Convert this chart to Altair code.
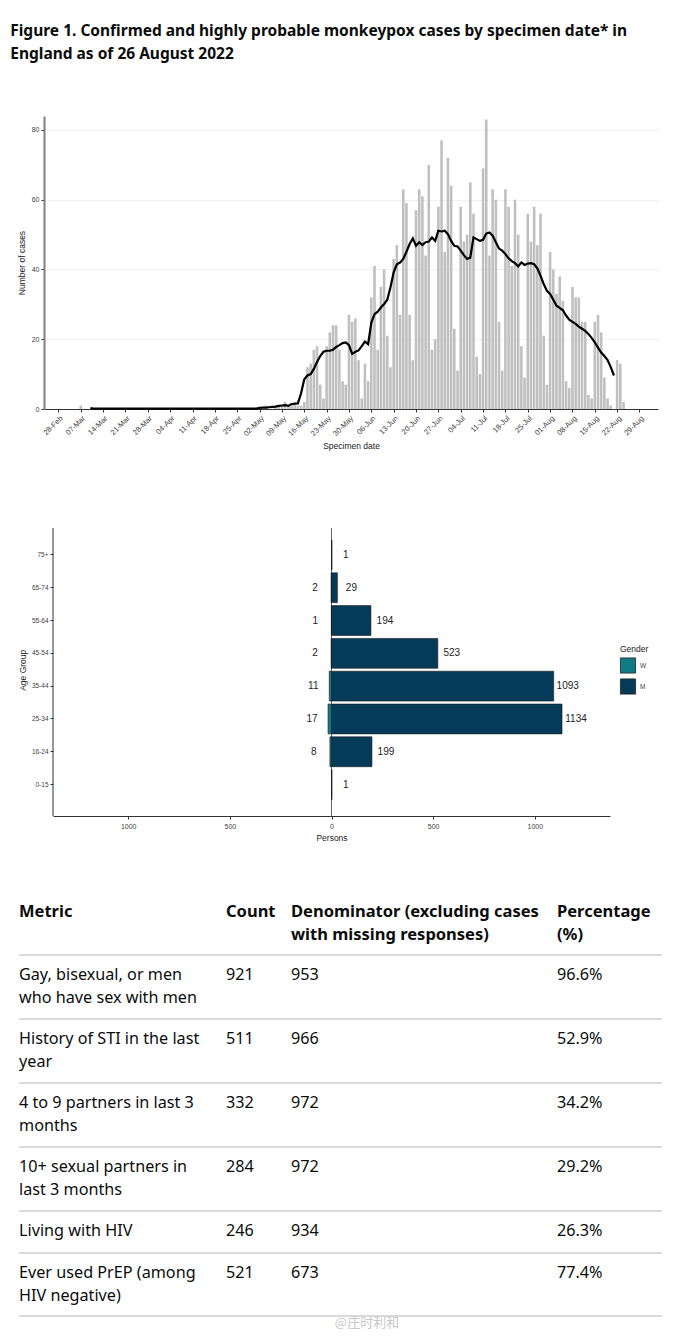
import altair as alt
import pandas as pd

# ---------------- data ----------------
title_lines = [
    "Figure 1. Confirmed and highly probable monkeypox cases by specimen date* in",
    "England as of 26 August 2022",
]

# daily cases (bars)
early_dates = ["2022-03-07"]
early_cases = [1]
daily_first_date = "2022-05-02"
daily_cases = [
    0, 0, 1, 0, 0, 1, 1, 1, 2, 1, 1, 2, 1, 1,                       # 2-15 May
    2, 12, 13, 17, 18, 7, 3, 18, 22, 24, 24, 17, 8, 7, 27, 25,      # 16-31 May
    26, 14, 3, 13, 8, 32, 41, 17, 35, 40, 21, 12, 43, 47, 27,       # 1-15 Jun
    63, 59, 27, 14, 57, 63, 61, 44, 70, 17, 20, 58, 77, 45, 72,     # 16-30 Jun
    64, 23, 11, 58, 48, 50, 65, 56, 15, 10, 69, 83, 44, 63, 60,     # 1-15 Jul
    25, 11, 63, 58, 41, 60, 50, 18, 9, 56, 48, 58, 47, 56, 21, 7,   # 16-31 Jul
    45, 40, 33, 38, 31, 8, 6, 35, 32, 32, 25, 25, 4, 3, 25, 27,     # 1-16 Aug
    22, 9, 3, 1, 0, 14, 13, 2,                                      # 17-24 Aug
]

# 7-day average (line)
avg_early_dates = ["2022-03-10", "2022-03-11", "2022-05-01"]
avg_early_values = [0.3, 0.1, 0.1]
avg_first_date = "2022-05-02"
avg_values = [
    0.3, 0.4, 0.4, 0.5, 0.6, 0.7, 0.9, 1.0, 1.1, 0.9, 1.4, 1.5, 1.6,          # 2-14 May
    4.5, 8.5, 9.6, 10.0, 11.5, 13.5, 15.2, 16.4, 16.7, 16.7, 17.0, 17.8,      # 15-26 May
    18.3, 18.9, 19.1, 18.3, 15.8,                                             # 27-31 May
    16.4, 16.8, 18.0, 19.3, 18.6, 24.8, 27.2, 27.9, 29.1, 30.1, 31.3, 34.9,   # 1-12 Jun
    39.2, 41.5, 42.0, 43.0, 45.1, 47.3, 48.9, 46.8, 47.8, 47.0, 47.8, 48.0,   # 13-24 Jun
    49.2, 48.2, 51.1, 50.9, 51.1, 50.1,                                       # 25-30 Jun
    48.2, 46.8, 46.6, 45.4, 44.1, 43.0, 43.4, 49.2, 48.7, 48.2, 48.5, 50.3,   # 1-12 Jul
    50.6, 49.7, 47.8, 46.0, 45.4, 44.4, 43.2, 42.4, 41.8, 40.9, 42.0, 41.3,   # 13-24 Jul
    41.7, 41.8, 41.5, 40.3, 38.2, 35.8, 33.9,                                 # 25-31 Jul
    33.0, 31.3, 29.6, 29.0, 28.3, 26.8, 25.6, 25.0, 24.4, 23.6, 23.0, 22.4,   # 1-12 Aug
    21.5, 20.4, 19.1, 17.6, 16.2, 15.2, 14.0, 12.0, 9.6,                      # 13-21 Aug
]

tick_first, tick_last = "2022-02-28", "2022-08-29"

# age / gender pyramid
age_groups = ["75+", "65-74", "55-64", "45-54", "35-44", "25-34", "16-24", "0-15"]
men_counts = [1, 29, 194, 523, 1093, 1134, 199, 1]
women_counts = [0, 2, 1, 2, 11, 17, 8, 0]

# table
table_headers = [["Metric"], ["Count"], ["Denominator (excluding cases", "with missing responses)"], ["Percentage", "(%)"]]
metric_lines = [
    ["Gay, bisexual, or men", "who have sex with men"],
    ["History of STI in the last", "year"],
    ["4 to 9 partners in last 3", "months"],
    ["10+ sexual partners in", "last 3 months"],
    ["Living with HIV"],
    ["Ever used PrEP (among", "HIV negative)"],
]
metric_counts = ["921", "511", "332", "284", "246", "521"]
metric_denoms = ["953", "966", "972", "972", "934", "673"]
metric_pcts = ["96.6%", "52.9%", "34.2%", "29.2%", "26.3%", "77.4%"]
watermark = "@庄时利和"

# ---------------- layout constants ----------------
AX_FONT = "Liberation Sans"
TB_FONT = "Noto Sans"
W1, H1 = 614, 293
W2, H2 = 566, 288
TABLE_TOP = 882          # page y of the table panel's top
LEFT = 44                # page x of the panels' origin
col_x = [19, 226, 291, 557]
header_y = 912
rule_ys = [955, 1019, 1083, 1147, 1211, 1253, 1316]
line_gap = 23

# ---------------- chart 1 ----------------
bar_dates = early_dates + [d.strftime("%Y-%m-%d") for d in pd.date_range(daily_first_date, periods=len(daily_cases))]
bars_df = pd.DataFrame({"date": pd.to_datetime(bar_dates), "cases": early_cases + daily_cases})
avg_dates = avg_early_dates + [d.strftime("%Y-%m-%d") for d in pd.date_range(avg_first_date, periods=len(avg_values))]
avg_df = pd.DataFrame({"date": pd.to_datetime(avg_dates), "avg": avg_early_values + avg_values})

def dt(ts, **kw):
    return alt.DateTime(year=ts.year, month=ts.month, date=ts.day, **kw)

ticks = [dt(t) for t in pd.date_range(tick_first, tick_last, freq="7D")]
x_dom = [alt.DateTime(year=2022, month=2, date=25, hours=1),
         alt.DateTime(year=2022, month=9, date=2, hours=5, minutes=30)]

x1 = alt.X("date:T", title="Specimen date", scale=alt.Scale(domain=x_dom),
           axis=alt.Axis(values=ticks, format="%d-%b", labelAngle=-45, labelFontSize=7.5,
                         labelOverlap=False, labelColor="#404040", labelFont=AX_FONT, tickSize=3,
                         tickColor="#333", domainColor="#333", domainWidth=1, grid=False,
                         titleFontSize=8.5, titleFont=AX_FONT, titleFontWeight="normal",
                         titleColor="#222", titlePadding=5, labelPadding=2))
y_axis1 = alt.Axis(values=[0, 20, 40, 60, 80], grid=True, gridColor="#ececec", gridWidth=0.8,
                   domainColor="#808080", domainWidth=2, labelFontSize=7, labelColor="#404040",
                   labelFont=AX_FONT, tickSize=3, tickColor="#333", titleFontSize=8.5,
                   titleFont=AX_FONT, titleFontWeight="normal", titleColor="#222",
                   titlePadding=5, labelPadding=2)
y_scale1 = alt.Scale(domain=[0, 84], nice=False)

bars1 = alt.Chart(bars_df).mark_bar(size=2.6, color="#c0c0c0").encode(
    x=x1, y=alt.Y("cases:Q", title="Number of cases", scale=y_scale1, axis=y_axis1))
line1 = alt.Chart(avg_df).mark_line(color="#000000", strokeWidth=2.2).encode(
    x=x1, y=alt.Y("avg:Q", title="Number of cases", scale=y_scale1, axis=y_axis1))
spacer1 = alt.Chart(pd.DataFrame({"s": [0]})).mark_rule(color="white", strokeWidth=1).encode(
    x=alt.value(0), x2=alt.value(4), y=alt.value(370))
chart1 = alt.layer(bars1, line1, spacer1).properties(width=W1, height=H1)

# ---------------- chart 2 ----------------
pyr_df = pd.DataFrame({
    "age": age_groups * 2,
    "gender": ["M"] * len(age_groups) + ["W"] * len(age_groups),
    "count": men_counts + women_counts,
})
base2 = alt.Chart(pyr_df).transform_calculate(
    signed="datum.gender == 'W' ? -datum.count : datum.count")
x_dom2 = [-1370, 1370]
x_scale2 = alt.Scale(domain=x_dom2, range=[9, W2], nice=False, zero=False)
x2 = alt.X("signed:Q", title="Persons", scale=x_scale2,
           axis=alt.Axis(values=[-1000, -500, 0, 500, 1000],
                         labelExpr="format(abs(datum.value), 'd')", grid=False,
                         labelFontSize=7, labelColor="#404040", labelFont=AX_FONT, tickSize=3,
                         tickColor="#333", domainColor="#333", domainWidth=1, titleFontSize=8.5,
                         titleFont=AX_FONT, titleFontWeight="normal", titleColor="#222",
                         titlePadding=4, labelPadding=3))
y2 = alt.Y("age:N", sort=age_groups, title="Age Group",
           scale=alt.Scale(paddingInner=0.09, paddingOuter=0, range=[12, 271.5]),
           axis=alt.Axis(offset=-9, domain=False, labelFontSize=6.5, labelColor="#404040",
                         labelFont=AX_FONT, tickSize=3, tickColor="#333",
                         titleFontSize=8.5, titleFont=AX_FONT, titleFontWeight="normal",
                         titleColor="#222", titlePadding=4, labelPadding=2))
color2 = alt.Color("gender:N", title="Gender",
                   scale=alt.Scale(domain=["W", "M"], range=["#0e7b86", "#063a59"]),
                   legend=alt.Legend(orient="none", legendX=576, legendY=529, symbolType="square",
                                     symbolSize=230, symbolStrokeColor="#222",
                                     symbolStrokeWidth=0.8, labelFontSize=6.5, labelFont=AX_FONT,
                                     labelColor="#404040", titleFontSize=8.5, titleFont=AX_FONT,
                                     titleFontWeight="normal", titleColor="#222", rowPadding=1,
                                     titlePadding=4))
bars2 = base2.mark_bar(stroke="#1b1b1b", strokeWidth=0.6).encode(x=x2, y=y2, color=color2)
zero_rule = alt.Chart(pd.DataFrame({"z": [0]})).mark_rule(color="#555555", strokeWidth=0.9).encode(
    x=alt.X("z:Q", title="Persons", scale=x_scale2))
edge_rule = alt.Chart(pd.DataFrame({"z": [x_dom2[0]]})).mark_rule(color="#333333", strokeWidth=1).encode(
    x=alt.X("z:Q", title="Persons", scale=x_scale2))
text_m = base2.transform_filter("datum.gender == 'M'").mark_text(
    align="center", dx=14, fontSize=10, font="Liberation Sans Narrow, Liberation Sans",
    color="#222").encode(x=x2, y=y2, text="count:Q")
text_w = base2.transform_filter("datum.gender == 'W' && datum.count > 0").mark_text(
    align="center", dx=-16, fontSize=10, font="Liberation Sans Narrow, Liberation Sans",
    color="#222").encode(x=x2, y=y2, text="count:Q")
chart2 = alt.layer(zero_rule, edge_rule, bars2, text_m, text_w).properties(width=W2, height=H2)

# ---------------- table ----------------
cells = []
for ci, lines in enumerate(table_headers):
    for li, t in enumerate(lines):
        cells.append({"x": col_x[ci] - LEFT, "y": header_y + li * line_gap - TABLE_TOP, "text": t, "bold": 1})
for ri in range(len(metric_lines)):
    y0 = rule_ys[ri] + 20
    row_cols = [metric_lines[ri], [metric_counts[ri]], [metric_denoms[ri]], [metric_pcts[ri]]]
    for ci, lines in enumerate(row_cols):
        for li, t in enumerate(lines):
            cells.append({"x": col_x[ci] - LEFT, "y": y0 + li * line_gap - TABLE_TOP, "text": t, "bold": 0})
cells_df = pd.DataFrame(cells)
rules_df = pd.DataFrame({"x1": [col_x[0] - LEFT] * len(rule_ys), "x2": [662 - LEFT] * len(rule_ys),
                         "y": [r - TABLE_TOP for r in rule_ys]})

head_txt = alt.Chart(cells_df).transform_filter("datum.bold == 1").mark_text(
    align="left", baseline="middle", fontSize=16.5, font=TB_FONT, fontWeight="bold", color="#0b0c0c"
).encode(x=alt.X("x:Q", scale=None, axis=None), y=alt.Y("y:Q", scale=None, axis=None), text="text:N")
body_txt = alt.Chart(cells_df).transform_filter("datum.bold == 0").mark_text(
    align="left", baseline="middle", fontSize=16.2, font=TB_FONT, color="#0b0c0c"
).encode(x=alt.X("x:Q", scale=None, axis=None), y=alt.Y("y:Q", scale=None, axis=None), text="text:N")
rules_t = alt.Chart(rules_df).mark_rule(color="#b1b4b6", strokeWidth=1).encode(
    x=alt.X("x1:Q", scale=None, axis=None), x2="x2:Q", y=alt.Y("y:Q", scale=None, axis=None))
wm = alt.Chart(pd.DataFrame({"t": [watermark]})).mark_text(
    align="center", baseline="middle", fontSize=13, font="Noto Sans CJK SC", color="#c8c8c8"
).encode(x=alt.value(367 - LEFT), y=alt.value(1323 - TABLE_TOP), text="t:N")
table = alt.layer(rules_t, head_txt, body_txt, wm).properties(width=W1, height=440)

# ---------------- assemble ----------------
chart = alt.vconcat(chart1, chart2, table, spacing=40).properties(
    title=alt.Title(title_lines, anchor="start", dx=-7, fontSize=15.5, font=TB_FONT,
                    fontWeight="bold", color="#0b0c0c", lineHeight=23, offset=54),
    padding={"left": 2, "top": 15, "right": 5, "bottom": 0},
    background="white",
).configure_view(strokeWidth=0, stroke="transparent")

chart.save("out.html", embed_options={"renderer": "svg", "actions": False})
